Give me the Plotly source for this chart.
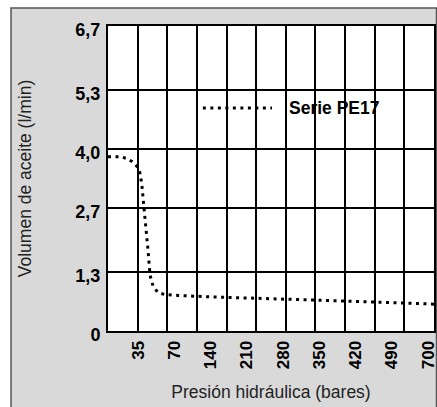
import plotly.graph_objects as go

# ---- data ----
pressure_labels = ["35", "70", "140", "210", "280", "350", "420", "490", "700"]
label_pos = list(range(len(pressure_labels)))
y_ticks = [0, 1.3, 2.7, 4.0, 5.3, 6.7]
y_ticktext = ["0", "1,3", "2,7", "4,0", "5,3", "6,7"]
series_name = "Serie PE17"
curve_x = [-0.837, -0.735, -0.503, -0.322, -0.167, -0.016, 0.047, 0.094, 0.121, 0.157,
           0.185, 0.212, 0.241, 0.268, 0.295, 0.323, 0.414, 0.553, 0.737, 1.105,
           1.98, 3.27, 4.46, 5.66, 7.31, 8.166]
curve_y = [3.83, 3.83, 3.83, 3.79, 3.72, 3.60, 3.46, 3.24, 3.03, 2.81,
           2.51, 2.29, 2.0, 1.78, 1.45, 1.23, 0.97, 0.84, 0.80, 0.78,
           0.75, 0.72, 0.70, 0.66, 0.615, 0.59]
grid_cells = 11

BOLD = "Liberation Sans Narrow, Arial Narrow, Liberation Sans, Arial, sans-serif"
REG = "Liberation Sans, Arial, sans-serif"
FRAME = "#d9d9d9"

fig = go.Figure()
fig.add_trace(go.Scatter(
    x=curve_x, y=curve_y, mode="lines", name=series_name, showlegend=False,
    line=dict(color="black", width=3, dash="3px,4.5px"),
))
fig.add_trace(go.Scatter(x=[], y=[], xaxis="x2", yaxis="y", showlegend=False))

fig.update_layout(
    width=437, height=407,
    margin=dict(l=108, r=3, t=26, b=76, autoexpand=False),
    paper_bgcolor="white", plot_bgcolor="white",
    xaxis=dict(
        range=[-0.837, 8.166], tickmode="array", tickvals=label_pos, ticktext=pressure_labels,
        tickangle=-90, ticks="", showgrid=False, zeroline=False,
        showline=True, linecolor="black", linewidth=2, mirror=True,
        tickfont=dict(family=BOLD, size=17, color="black", weight="bold"),
        ticklabelstandoff=1, ticklabeloverflow="allow",
        title=dict(text="Presión hidráulica (bares)", font=dict(family=REG, size=17.5, color="#222"), standoff=18),
    ),
    xaxis2=dict(
        overlaying="x", anchor="y", range=[0, grid_cells], tickmode="linear", tick0=0, dtick=1,
        showticklabels=False, ticks="", showgrid=True, gridcolor="black", gridwidth=2,
        zeroline=False, showline=False,
    ),
    yaxis=dict(
        range=[0, 6.7], tickmode="array", tickvals=y_ticks, ticktext=y_ticktext,
        ticks="", showgrid=True, gridcolor="black", gridwidth=2, zeroline=False,
        showline=True, linecolor="black", linewidth=2, mirror=True,
        tickfont=dict(family=BOLD, size=18, color="black", weight="bold"),
        ticklabelstandoff=2, ticklabelshift=4,
        title=dict(text="Volumen de aceite (l/min)", font=dict(family=REG, size=17.5, color="#222"), standoff=39),
    ),
    shapes=[
        dict(type="rect", xref="paper", yref="paper", x0=-0.2975, x1=1.0077, y0=-0.2918, y1=1.059,
             fillcolor=FRAME, line=dict(color="#555", width=1.5), layer="below"),
        dict(type="rect", xref="paper", yref="paper", x0=0, x1=1, y0=0, y1=1,
             fillcolor="white", line=dict(width=0), layer="below"),
        dict(type="rect", xref="paper", yref="paper", x0=0.27, x1=1.0, y0=0.672, y1=0.793,
             fillcolor="white", line=dict(width=0), layer="between"),
        dict(type="line", xref="paper", yref="paper", x0=0.291, x1=0.503, y0=0.731, y1=0.731,
             line=dict(color="black", width=3, dash="3px,4.5px"), layer="between"),
    ],
    annotations=[
        dict(text=series_name, xref="paper", yref="paper", x=0.548, y=0.731,
             xanchor="left", yanchor="middle", showarrow=False,
             font=dict(family=BOLD, size=17.5, color="black", weight="bold")),
    ],
)

fig.write_html(
    "out.html",
    config={"displayModeBar": False},
    post_script="document.body.style.margin='0';document.body.style.padding='0';"
                "document.documentElement.style.overflow='hidden';document.body.style.overflow='hidden';",
)
